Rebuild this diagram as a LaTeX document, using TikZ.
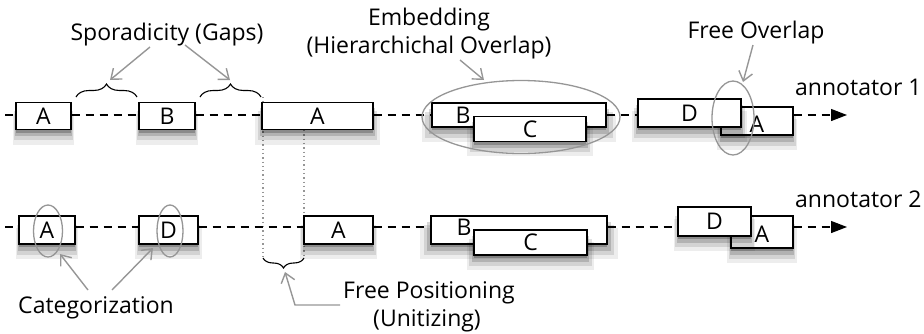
\documentclass[tikz,border=0pt]{standalone}
\usepackage{fontspec}
\setmainfont{Open Sans}
\usetikzlibrary{arrows.meta,shapes.geometric,shadows,decorations.pathreplacing}
\definecolor{annogray}{RGB}{150,150,150}
\begin{document}
\begin{tikzpicture}[x=1pt,y=-1pt,
  lab/.style={font=\fontsize{23}{26}\selectfont, inner sep=0pt, anchor=base},
  softshadow/.style={
    drop shadow={shadow xshift=0pt,shadow yshift=-3pt,opacity=.22,fill=black},
    drop shadow={shadow xshift=0pt,shadow yshift=-6pt,opacity=.16,fill=black,shadow scale=1.04},
    drop shadow={shadow xshift=0pt,shadow yshift=-9pt,opacity=.11,fill=black,shadow scale=1.08},
    drop shadow={shadow xshift=0pt,shadow yshift=-12pt,opacity=.07,fill=black,shadow scale=1.12}},
  seg/.style={draw=black, line width=1.4pt, fill=white, inner sep=0pt, softshadow,
    font=\fontsize{23}{26}\selectfont, text height=16pt, text depth=0pt},
  boxlab/.style={font=\fontsize{23}{26}\selectfont, inner sep=0pt, text height=16pt, text depth=0pt},
  dline/.style={line width=1.3pt, dash pattern=on 8pt off 6pt},
  ring/.style={draw=annogray, ellipse, line width=1.3pt, inner sep=0pt},
  pointer/.style={draw=annogray, line width=1.4pt, -{Straight Barb[length=9pt,width=14pt]}},
  guide/.style={draw=annogray, line width=1.3pt, dash pattern=on 1.3pt off 3pt},
  gap/.style={decorate, decoration={brace, amplitude=#1}, line width=1.1pt},
]
\useasboundingbox (0,0) rectangle (924,333);

% dotted guides (behind boxes)
\coordinate (g1t) at (263,97);  \coordinate (g1b) at (263,257);
\coordinate (g2t) at (304,130); \coordinate (g2b) at (304,257);
\draw[guide] (g1t) -- (g1b);
\draw[guide] (g2t) -- (g2b);

% ---------- annotator 1 ----------
\node[seg, minimum width=55pt, minimum height=27pt] (a1) at (43.5,116) {A};
\node[seg, minimum width=56pt, minimum height=27pt] (b1) at (167,116) {B};
\node[seg, minimum width=111pt, minimum height=27pt] (a1b) at (317.5,116) {A};
\node[seg, minimum width=174pt, minimum height=24pt] (bb1) at (519,115) {};
\node[boxlab] (bl1) at (463,115) {B};
\node[seg, minimum width=112pt, minimum height=25pt] (c1) at (530,129) {C};
\node[seg, minimum width=72pt, minimum height=28pt] (ao1) at (757,121) {};
\node[boxlab] (al1) at (757,124) {A};
\node[seg, minimum width=103pt, minimum height=28pt] (d1) at (689.5,113) {D};

\coordinate (s1) at (5,115);
\coordinate (e1) at (847,115);
\draw[dline] (s1) -- (a1.west |- s1);
\draw[dline] (a1.east |- s1) -- (b1.west |- s1);
\draw[dline] (b1.east |- s1) -- (a1b.west |- s1);
\draw[dline] (a1b.east |- s1) -- (bb1.west |- s1);
\draw[dline] (bb1.east |- s1) -- (d1.west |- s1);
\draw[dline, -{Triangle[length=16pt,width=12pt]}] (ao1.east |- s1) -- (e1);

% ---------- annotator 2 ----------
\node[seg, minimum width=56pt, minimum height=28pt] (a2) at (47,230) {A};
\node[seg, minimum width=59pt, minimum height=28pt] (d2) at (168.5,230) {D};
\node[seg, minimum width=69pt, minimum height=28pt] (a2b) at (338.5,230) {A};
\node[seg, minimum width=176pt, minimum height=28pt] (bb2) at (519,230) {};
\node[boxlab] (bl2) at (464,227) {B};
\node[seg, minimum width=113pt, minimum height=25pt] (c2) at (530.5,242.5) {C};
\node[seg, minimum width=62pt, minimum height=32pt] (ao2) at (762,232) {};
\node[boxlab] (al2) at (762,234) {A};
\node[seg, minimum width=73pt, minimum height=29pt] (d2o) at (714.5,221.5) {D};

\coordinate (s2) at (5,227);
\coordinate (e2) at (847,227);
\draw[dline] (s2) -- (a2.west |- s2);
\draw[dline] (a2.east |- s2) -- (d2.west |- s2);
\draw[dline] (d2.east |- s2) -- (a2b.west |- s2);
\draw[dline] (a2b.east |- s2) -- (bb2.west |- s2);
\draw[dline] (bb2.east |- s2) -- (d2o.west |- s2);
\draw[dline, -{Triangle[length=16pt,width=12pt]}] (ao2.east |- s2) -- (e2);

% ---------- braces ----------
\draw[gap=13pt] (76,97) -- (137,97);
\draw[gap=13pt] (200,97) -- (261,97);
\draw[gap=10pt] (304,258) -- (263,258);

% ---------- rings ----------
\node[ring, minimum width=198pt, minimum height=73pt] (emb) at (521,117) {};
\node[ring, minimum width=42pt, minimum height=74pt] (fo) at (733,118) {};
\node[ring, minimum width=29pt, minimum height=52pt] (ca) at (48,231) {};
\node[ring, minimum width=26pt, minimum height=52pt] (cd) at (170,231) {};

% ---------- labels ----------
\node[lab] (spor) at (167,40) {Sporadicity (Gaps)};
\node[lab] (emb1) at (429,25) {Embedding};
\node[lab] (emb2) at (429,53) {(Hierarchichal Overlap)};
\node[lab] (fol) at (756,38) {Free Overlap};
\node[lab, anchor=base west] (ann1) at (795,95) {annotator 1};
\node[lab, anchor=base west] (ann2) at (795,207) {annotator 2};
\node[lab] (cat) at (96,313) {Categorization};
\node[lab] (fp1) at (429,298) {Free Positioning};
\node[lab] (fp2) at (427,326) {(Unitizing)};

% ---------- pointers ----------
\coordinate (p1s) at (150,47);  \coordinate (p1e) at (110,80);
\coordinate (p2s) at (185,45);  \coordinate (p2e) at (230,80);
\coordinate (p3s) at (460,60);  \coordinate (p3e) at (484,80);
\coordinate (p4s) at (753,45);  \coordinate (p4e) at (743,82);
\coordinate (p5s) at (88,290);  \coordinate (p5e) at (60,254);
\coordinate (p6s) at (112,290); \coordinate (p6e) at (153,248);
\coordinate (p7s) at (340,305); \coordinate (p7m) at (295,305); \coordinate (p7e) at (285,272);
\draw[pointer] (p1s) -- (p1e);
\draw[pointer] (p2s) -- (p2e);
\draw[pointer] (p3s) -- (p3e);
\draw[pointer] (p4s) -- (p4e);
\draw[pointer] (p5s) -- (p5e);
\draw[pointer] (p6s) -- (p6e);
\draw[pointer] (p7s) -- (p7m) -- (p7e);
\end{tikzpicture}
\end{document}
